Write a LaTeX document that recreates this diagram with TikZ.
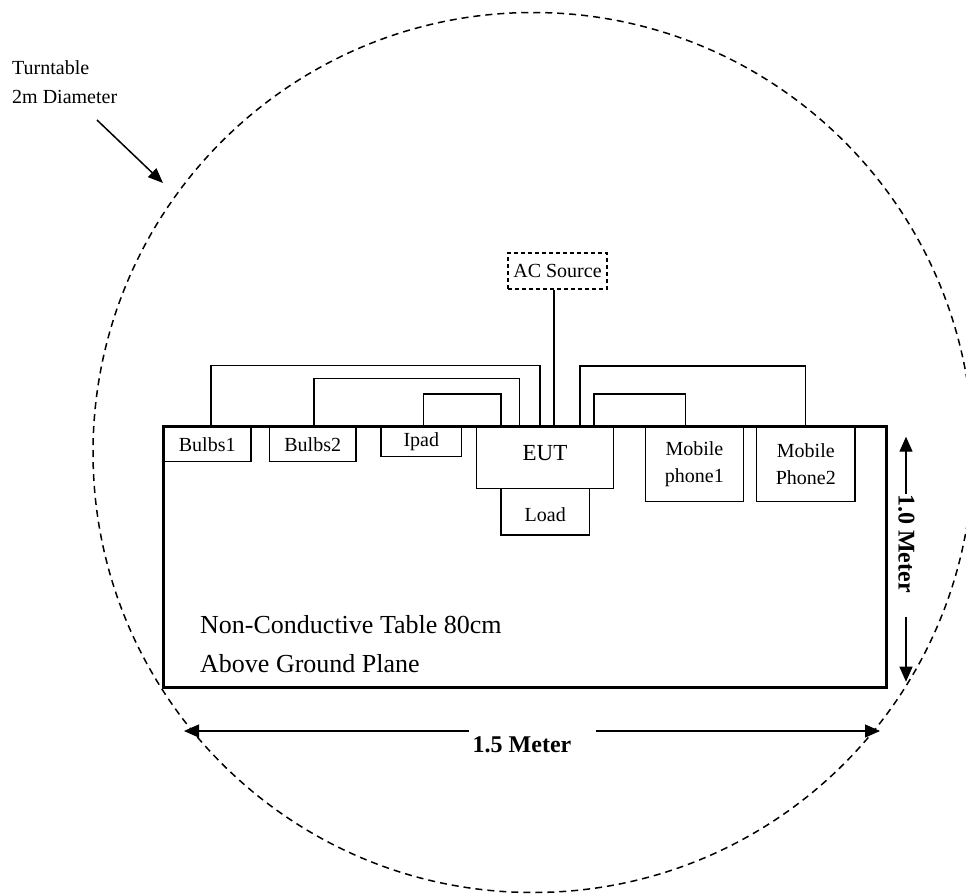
\documentclass[tikz,border=0pt]{standalone}
\usepackage{fontspec}
\setmainfont{Liberation Serif}
\usetikzlibrary{arrows.meta,calc}
\begin{document}
\begin{tikzpicture}[x=1pt,y=-1pt,
  box/.style={draw,line width=1.3pt,inner sep=0pt,align=center,font=\fontsize{20}{27}\selectfont},
  wire/.style={line width=1.3pt},
  dimarrow/.style={line width=1.3pt,-{Triangle[length=15pt,width=13pt]}},
  dimlabel/.style={inner sep=0pt,font=\bfseries\fontsize{24}{24}\selectfont},
  plain/.style={inner sep=0pt,anchor=base west},
]
\useasboundingbox (0,0) rectangle (966,895);
% turntable
\draw[line width=1.5pt,dash pattern=on 7pt off 5pt] (533,452.5) circle[radius=440pt];
\node[plain,font=\fontsize{20}{20}\selectfont] (tt1) at (12,74.5) {Turntable};
\node[plain,font=\fontsize{20}{20}\selectfont] (tt2) at (12,103) {2m Diameter};
\coordinate (ttstart) at (97,120);
\coordinate (tttip) at (163,183);
\draw[line width=1.5pt,-{Triangle[length=15pt,width=12pt]}] (ttstart) -- (tttip);
% table
\node[draw,line width=2.5pt,minimum width=723.4pt,minimum height=260.6pt,inner sep=0pt] (table) at (525,557) {};
\node[plain,font=\fontsize{26}{26}\selectfont] (tab1) at (200,633) {Non-Conductive Table 80cm};
\node[plain,font=\fontsize{26}{26}\selectfont] (tab2) at (200,672) {Above Ground Plane};
% boxes
\node[box,minimum width=87.7pt,minimum height=35pt] (bulbs1) at (207.2,444.2) {Bulbs1};
\node[box,minimum width=86.7pt,minimum height=35pt] (bulbs2) at (312.7,444.2) {Bulbs2};
\node[box,minimum width=80.7pt,minimum height=30pt] (ipad) at (421.3,441.7) {Ipad};
\node[box,minimum width=136.6pt,minimum height=61.6pt,text depth=10pt,font=\fontsize{23}{23}\selectfont] (eut) at (545,457.5) {EUT};
\node[box,minimum width=88.3pt,minimum height=46.7pt,text height=19.7pt] (load) at (545.2,511.7) {Load};
\node[box,minimum width=97.8pt,minimum height=75pt] (mob1) at (694.4,464.2) {Mobile\\phone1};
\node[box,minimum width=98.3pt,minimum height=75pt] (mob2) at (805.8,464.2) {Mobile\\Phone2};
\node[box,line width=1.2pt,dash pattern=on 4pt off 3pt,minimum width=99pt,minimum height=36pt] (ac) at (557.5,271) {AC Source};
% wires
\draw[wire] (bulbs1.north -| 211,0) -- (211,365.7) -- (540,365.7) -- (eut.north -| 540,0);
\draw[wire] (bulbs2.north -| 314,0) -- (314,378.3) -- (519.3,378.3) -- (eut.north -| 519.3,0);
\draw[wire] (ipad.north -| 423.3,0) -- (423.3,394) -- (501,394) -- (eut.north -| 501,0);
\draw[wire] (ac.south -| 554,0) -- (eut.north -| 554,0);
\draw[wire] (eut.north -| 580,0) -- (580,366) -- (805.7,366) -- (mob2.north -| 805.7,0);
\draw[wire] (eut.north -| 594,0) -- (594,394) -- (685.7,394) -- (mob1.north -| 685.7,0);
% dimensions
\node[dimlabel,rotate=-90] (vlabel) at (906.5,543.4) {1.0 Meter};
\coordinate (vtop) at (906,436.7);
\coordinate (vbot) at (906,681.7);
\coordinate (vlow) at (906,616.7);
\draw[dimarrow] (vlabel.west -| vtop) -- (vtop);
\draw[dimarrow] (vlow) -- (vbot);
\node[dimlabel,anchor=north] (hlabel) at (522,736) {1.5 Meter};
\coordinate (hleft) at (184,731);
\coordinate (hright) at (880,731);
\coordinate (hl) at (469,731);
\coordinate (hr) at (595.5,731);
\draw[dimarrow] (hl) -- (hleft);
\draw[dimarrow] (hr) -- (hright);
\end{tikzpicture}
\end{document}
